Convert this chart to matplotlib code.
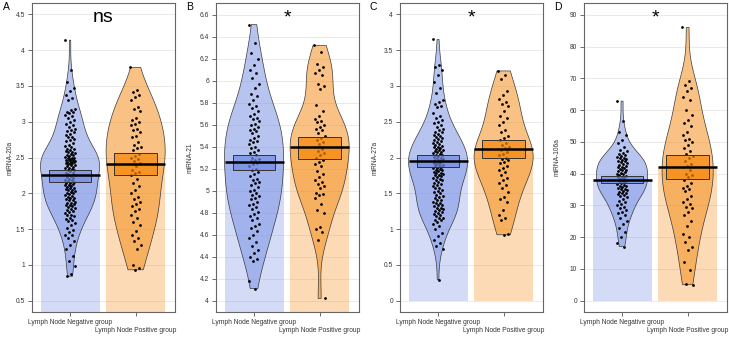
import numpy as np
import matplotlib.pyplot as plt
from matplotlib.patches import Rectangle

plt.rcParams['font.family'] = ['Liberation Sans', 'DejaVu Sans']

groups = ["Lymph Node Negative group", "Lymph Node Positive group"]
letters = ["A", "B", "C", "D"]
ylabels = ["miRNA-20a", "miRNA-21", "miRNA-27a", "miRNA-106a"]
sig = ["ns", "*", "*", "*"]

# values (approximate)
a_neg = [4.14, 3.72, 3.56, 3.47, 3.43, 3.38, 3.33, 3.30, 3.18, 3.16, 3.14, 3.13, 3.12, 3.10,
         3.08, 3.05, 3.02, 3.00, 2.97, 2.95, 2.93, 2.90, 2.88, 2.87, 2.85, 2.83, 2.81, 2.79,
         2.78, 2.76, 2.74, 2.73, 2.70, 2.68, 2.66, 2.64, 2.62,
         2.62, 2.61, 2.59, 2.58, 2.57, 2.56, 2.55, 2.54, 2.53, 2.52, 2.51, 2.50, 2.50, 2.49,
         2.48, 2.47, 2.47, 2.46, 2.45, 2.45, 2.44, 2.44, 2.43, 2.43, 2.42, 2.41, 2.40, 2.39,
         2.38, 2.37, 2.36, 2.35, 2.34, 2.33, 2.32, 2.31, 2.29, 2.28, 2.27, 2.25, 2.24, 2.23,
         2.21, 2.20, 2.19, 2.18, 2.17, 2.16, 2.15, 2.14, 2.13, 2.12, 2.11, 2.10, 2.09, 2.08,
         2.07, 2.06, 2.05, 2.04, 2.03, 2.02, 2.01, 2.00, 1.99, 1.97, 1.96, 1.95, 1.94, 1.93,
         1.92, 1.91, 1.90, 1.88, 1.87, 1.86, 1.85, 1.84, 1.83, 1.82, 1.81, 1.80, 1.78, 1.76,
         1.75, 1.74, 1.72, 1.70, 1.69, 1.68, 1.66, 1.64, 1.62, 1.61, 1.58, 1.55, 1.52, 1.49,
         1.46, 1.42, 1.41, 1.37, 1.33, 1.28, 1.22, 1.12, 1.05, 0.98, 0.87, 0.84]
a_pos = [3.76, 3.44, 3.42, 3.38, 3.35, 3.30, 3.20, 3.18, 3.15, 3.05, 3.02, 3.00, 2.97, 2.95,
         2.90, 2.88, 2.85, 2.80, 2.78, 2.72, 2.68, 2.65, 2.63, 2.60, 2.55, 2.52, 2.50, 2.48,
         2.45, 2.42, 2.38, 2.33, 2.30, 2.28, 2.25, 2.20, 2.15, 2.10, 2.05, 2.00, 1.95, 1.92,
         1.88, 1.85, 1.82, 1.78, 1.75, 1.70, 1.65, 1.60, 1.55, 1.47, 1.42, 1.38, 1.33, 1.28,
         1.22, 1.00, 0.96, 0.93]
b_neg = [6.51, 6.34, 6.25, 6.20, 6.14, 6.10, 6.07, 6.02, 5.97, 5.93, 5.88, 5.86, 5.82, 5.79,
         5.77, 5.75, 5.72, 5.70, 5.68, 5.66, 5.65, 5.63, 5.61, 5.60, 5.58, 5.56, 5.55, 5.54,
         5.52, 5.50, 5.48, 5.46, 5.45, 5.44, 5.42, 5.40, 5.39, 5.37, 5.35, 5.34, 5.32, 5.30,
         5.29, 5.28, 5.27, 5.25, 5.24, 5.22, 5.20, 5.19, 5.17, 5.15, 5.13, 5.11, 5.10, 5.08,
         5.07, 5.05, 5.03, 5.01, 5.00, 4.98, 4.96, 4.95, 4.93, 4.92, 4.90, 4.88, 4.87, 4.85,
         4.83, 4.81, 4.79, 4.77, 4.75, 4.73, 4.70, 4.68, 4.66, 4.63, 4.60, 4.57, 4.53, 4.50,
         4.46, 4.43, 4.40, 4.38, 4.36, 4.18, 4.11]
b_pos = [6.32, 6.26, 6.15, 6.12, 6.10, 6.07, 6.05, 5.97, 5.95, 5.92, 5.78, 5.72, 5.68, 5.65,
         5.63, 5.62, 5.60, 5.58, 5.56, 5.55, 5.52, 5.50, 5.48, 5.46, 5.44, 5.42, 5.40, 5.38,
         5.36, 5.34, 5.32, 5.30, 5.28, 5.26, 5.24, 5.22, 5.18, 5.15, 5.12, 5.10, 5.08, 5.06,
         5.04, 5.02, 4.98, 4.97, 4.96, 4.93, 4.88, 4.82, 4.80, 4.67, 4.65, 4.62, 4.55, 4.02]
c_neg = [3.65, 3.30, 3.27, 3.22, 3.15, 3.05, 2.97, 2.90, 2.80, 2.77, 2.75, 2.72, 2.70, 2.62,
         2.58, 2.55, 2.52, 2.50, 2.48, 2.45, 2.42, 2.40, 2.38, 2.36, 2.35, 2.33, 2.32, 2.30,
         2.28, 2.27, 2.26, 2.24, 2.23, 2.22, 2.20, 2.19, 2.18, 2.16, 2.15, 2.14, 2.13, 2.12,
         2.11, 2.10, 2.09, 2.08, 2.07, 2.06, 2.05, 2.04, 2.03, 2.02, 2.01, 2.00, 1.99, 1.98,
         1.97, 1.96, 1.95, 1.94, 1.93, 1.92, 1.91, 1.90, 1.89, 1.88, 1.87, 1.86, 1.85, 1.84,
         1.83, 1.82, 1.81, 1.80, 1.79, 1.78, 1.77, 1.76, 1.75, 1.74, 1.73, 1.72, 1.70, 1.69,
         1.68, 1.66, 1.65, 1.63, 1.62, 1.60, 1.58, 1.57, 1.55, 1.53, 1.52, 1.50, 1.48, 1.46,
         1.45, 1.43, 1.41, 1.40, 1.38, 1.37, 1.36, 1.34, 1.33, 1.32, 1.30, 1.29, 1.28, 1.26,
         1.25, 1.24, 1.22, 1.21, 1.20, 1.18, 1.16, 1.15, 1.13, 1.12, 1.10, 1.07, 1.04, 1.00,
         0.95, 0.90, 0.85, 0.80, 0.76, 0.72, 0.29]
c_pos = [3.21, 3.15, 3.10, 2.93, 2.88, 2.82, 2.78, 2.75, 2.72, 2.65, 2.58, 2.55, 2.50, 2.45,
         2.38, 2.35, 2.30, 2.27, 2.24, 2.20, 2.17, 2.15, 2.13, 2.10, 2.08, 2.05, 2.03, 2.00,
         1.98, 1.96, 1.94, 1.92, 1.88, 1.85, 1.83, 1.80, 1.76, 1.72, 1.68, 1.65, 1.62, 1.58,
         1.52, 1.45, 1.42, 1.38, 1.27, 1.20, 1.15, 1.12, 0.93, 0.92]
d_neg = [62.8, 56.5, 53.0, 52.0, 50.5, 49.5, 48.5, 47.5, 47.0, 46.5, 46.0, 45.8, 45.5, 45.2,
         45.0, 44.8, 44.5, 44.2, 44.0, 43.8, 43.5, 43.2, 43.0, 42.8, 42.5, 42.2, 42.0, 41.8,
         41.5, 41.2, 41.0, 40.8, 40.5, 40.2, 40.0, 39.8, 39.5, 39.2, 39.0, 38.8, 38.5, 38.2,
         38.0, 37.8, 37.5, 37.2, 37.0, 36.8, 36.5, 36.2, 36.0, 35.8, 35.5, 35.2, 35.0, 34.8,
         34.5, 34.2, 34.0, 33.8, 33.5, 33.2, 33.0, 32.5, 32.0, 31.5, 31.0, 30.5, 30.0, 29.5,
         29.0, 28.5, 28.0, 27.5, 27.0, 26.0, 25.0, 24.0, 23.0, 21.5, 20.0, 18.0, 17.0]
d_pos = [86.0, 69.0, 68.0, 67.0, 66.0, 64.0, 63.0, 60.0, 58.5, 57.0, 56.0, 55.0, 53.0, 52.0,
         51.0, 50.5, 50.0, 49.0, 48.0, 47.0, 46.0, 45.5, 45.0, 44.0, 43.0, 42.5, 42.0, 41.0,
         40.0, 39.5, 39.0, 38.0, 37.0, 36.0, 35.5, 35.0, 34.5, 33.0, 32.0, 31.0, 30.5, 29.5,
         29.0, 28.0, 27.0, 25.0, 23.5, 21.0, 20.0, 18.5, 17.0, 16.0, 12.0, 9.5, 5.2, 5.0]

data = [(a_neg, a_pos), (b_neg, b_pos), (c_neg, c_pos), (d_neg, d_pos)]

# group means and inference bands
means = [(2.25, 2.41), (5.26, 5.40), (1.95, 2.12), (38.0, 42.0)]
band_lo = [(2.16, 2.26), (5.19, 5.29), (1.87, 2.00), (37.1, 38.2)]
band_hi = [(2.32, 2.56), (5.32, 5.49), (2.03, 2.24), (39.2, 45.7)]

yticks = [np.arange(0.5, 4.51, 0.5), np.arange(4.0, 6.61, 0.2),
          np.arange(0, 4.01, 0.5), np.arange(0, 91, 10)]
ylims = [(0.34, 4.66), (3.897, 6.706), (-0.16, 4.16), (-3.6, 93.7)]

colors = ["#728ae3", "#f5870a"]

fig = plt.figure(figsize=(7.29, 3.37), dpi=100)
W, H = 729, 337
lefts = [32, 216, 400, 584]
ylab_x = [10, 190, 375, 557]
letter_x = [3, 186, 370, 554]
vio_max = [0.45, 0.45, 0.45, 0.39]


def kde(vals, grid, adjust=1.0):
    v = np.asarray(vals)
    sd = v.std(ddof=1)
    iqr = np.subtract(*np.percentile(v, [75, 25]))
    bw = adjust * 0.9 * min(sd, iqr / 1.34) * len(v) ** -0.2
    return np.exp(-0.5 * ((grid[:, None] - v[None, :]) / bw) ** 2).sum(1)


def fmt(v):
    return ("%.1f" % v).rstrip("0").rstrip(".")


for p in range(4):
    ax = fig.add_axes([lefts[p] / W, (H - 312) / H, 143 / W, 309 / H])
    ax.set_xlim(0.42, 2.6)
    ax.set_ylim(*ylims[p])
    ax.set_yticks(yticks[p])
    ax.set_yticklabels([fmt(t) for t in yticks[p]], fontsize=4.8, color="#333333")
    ax.set_xticks([1, 2])
    ax.set_xticklabels([])
    ax.tick_params(length=3, width=0.6, color="#555555", pad=2)
    ax.yaxis.grid(True, color="#e6e6e6", lw=0.6)
    ax.set_axisbelow(True)
    for s in ax.spines.values():
        s.set_color("#666666")
        s.set_linewidth(0.8)

    for g in range(2):
        x = g + 1
        vals = np.asarray(data[p][g])
        col = colors[g]
        ax.bar(x, means[p][g], width=0.9, color=col, alpha=0.3, zorder=1)
        grid = np.linspace(vals.min(), vals.max(), 300)
        dens = kde(vals, grid)
        w = dens / dens.max() * vio_max[p]
        ax.fill_betweenx(grid, x - w, x + w, facecolor=col, alpha=0.5, zorder=2, lw=0)
        ax.fill_betweenx(grid, x - w, x + w, facecolor="none", edgecolor="#3a3a3a",
                         lw=0.5, zorder=2.5)
        jit = ((np.arange(len(vals)) * 0.618034) % 1 - 0.5) * 0.16
        ax.scatter(x + jit, vals, s=4, color="black", lw=0, zorder=3)
        ax.add_patch(Rectangle((x - 0.325, band_lo[p][g]), 0.65,
                               band_hi[p][g] - band_lo[p][g], facecolor=col,
                               alpha=0.7, edgecolor="none", zorder=4))
        ax.add_patch(Rectangle((x - 0.325, band_lo[p][g]), 0.65,
                               band_hi[p][g] - band_lo[p][g], facecolor="none",
                               edgecolor="#333333", lw=0.7, zorder=4.5))
        ax.hlines(means[p][g], x - 0.45, x + 0.45, color="black", lw=1.8, zorder=5)

    ax.text(1, -11 / 309, groups[0], transform=ax.get_xaxis_transform(),
            ha="center", va="center", fontsize=4.8, color="#333333")
    ax.text(2, -18 / 309, groups[1], transform=ax.get_xaxis_transform(),
            ha="center", va="center", fontsize=4.8, color="#333333")
    ax.text((ylab_x[p] - lefts[p]) / 143, 0.5, ylabels[p], rotation=90,
            transform=ax.transAxes, ha="center", va="center", fontsize=4.8, color="#333333")
    ax.text(0.5, (312 - 22) / 309, sig[p], transform=ax.transAxes, ha="center",
            va="baseline", fontsize=14)
    fig.text(letter_x[p] / W, (H - 10) / H, letters[p], fontsize=7.5, ha="left",
             va="baseline")

fig.savefig("out.png", dpi=100)
